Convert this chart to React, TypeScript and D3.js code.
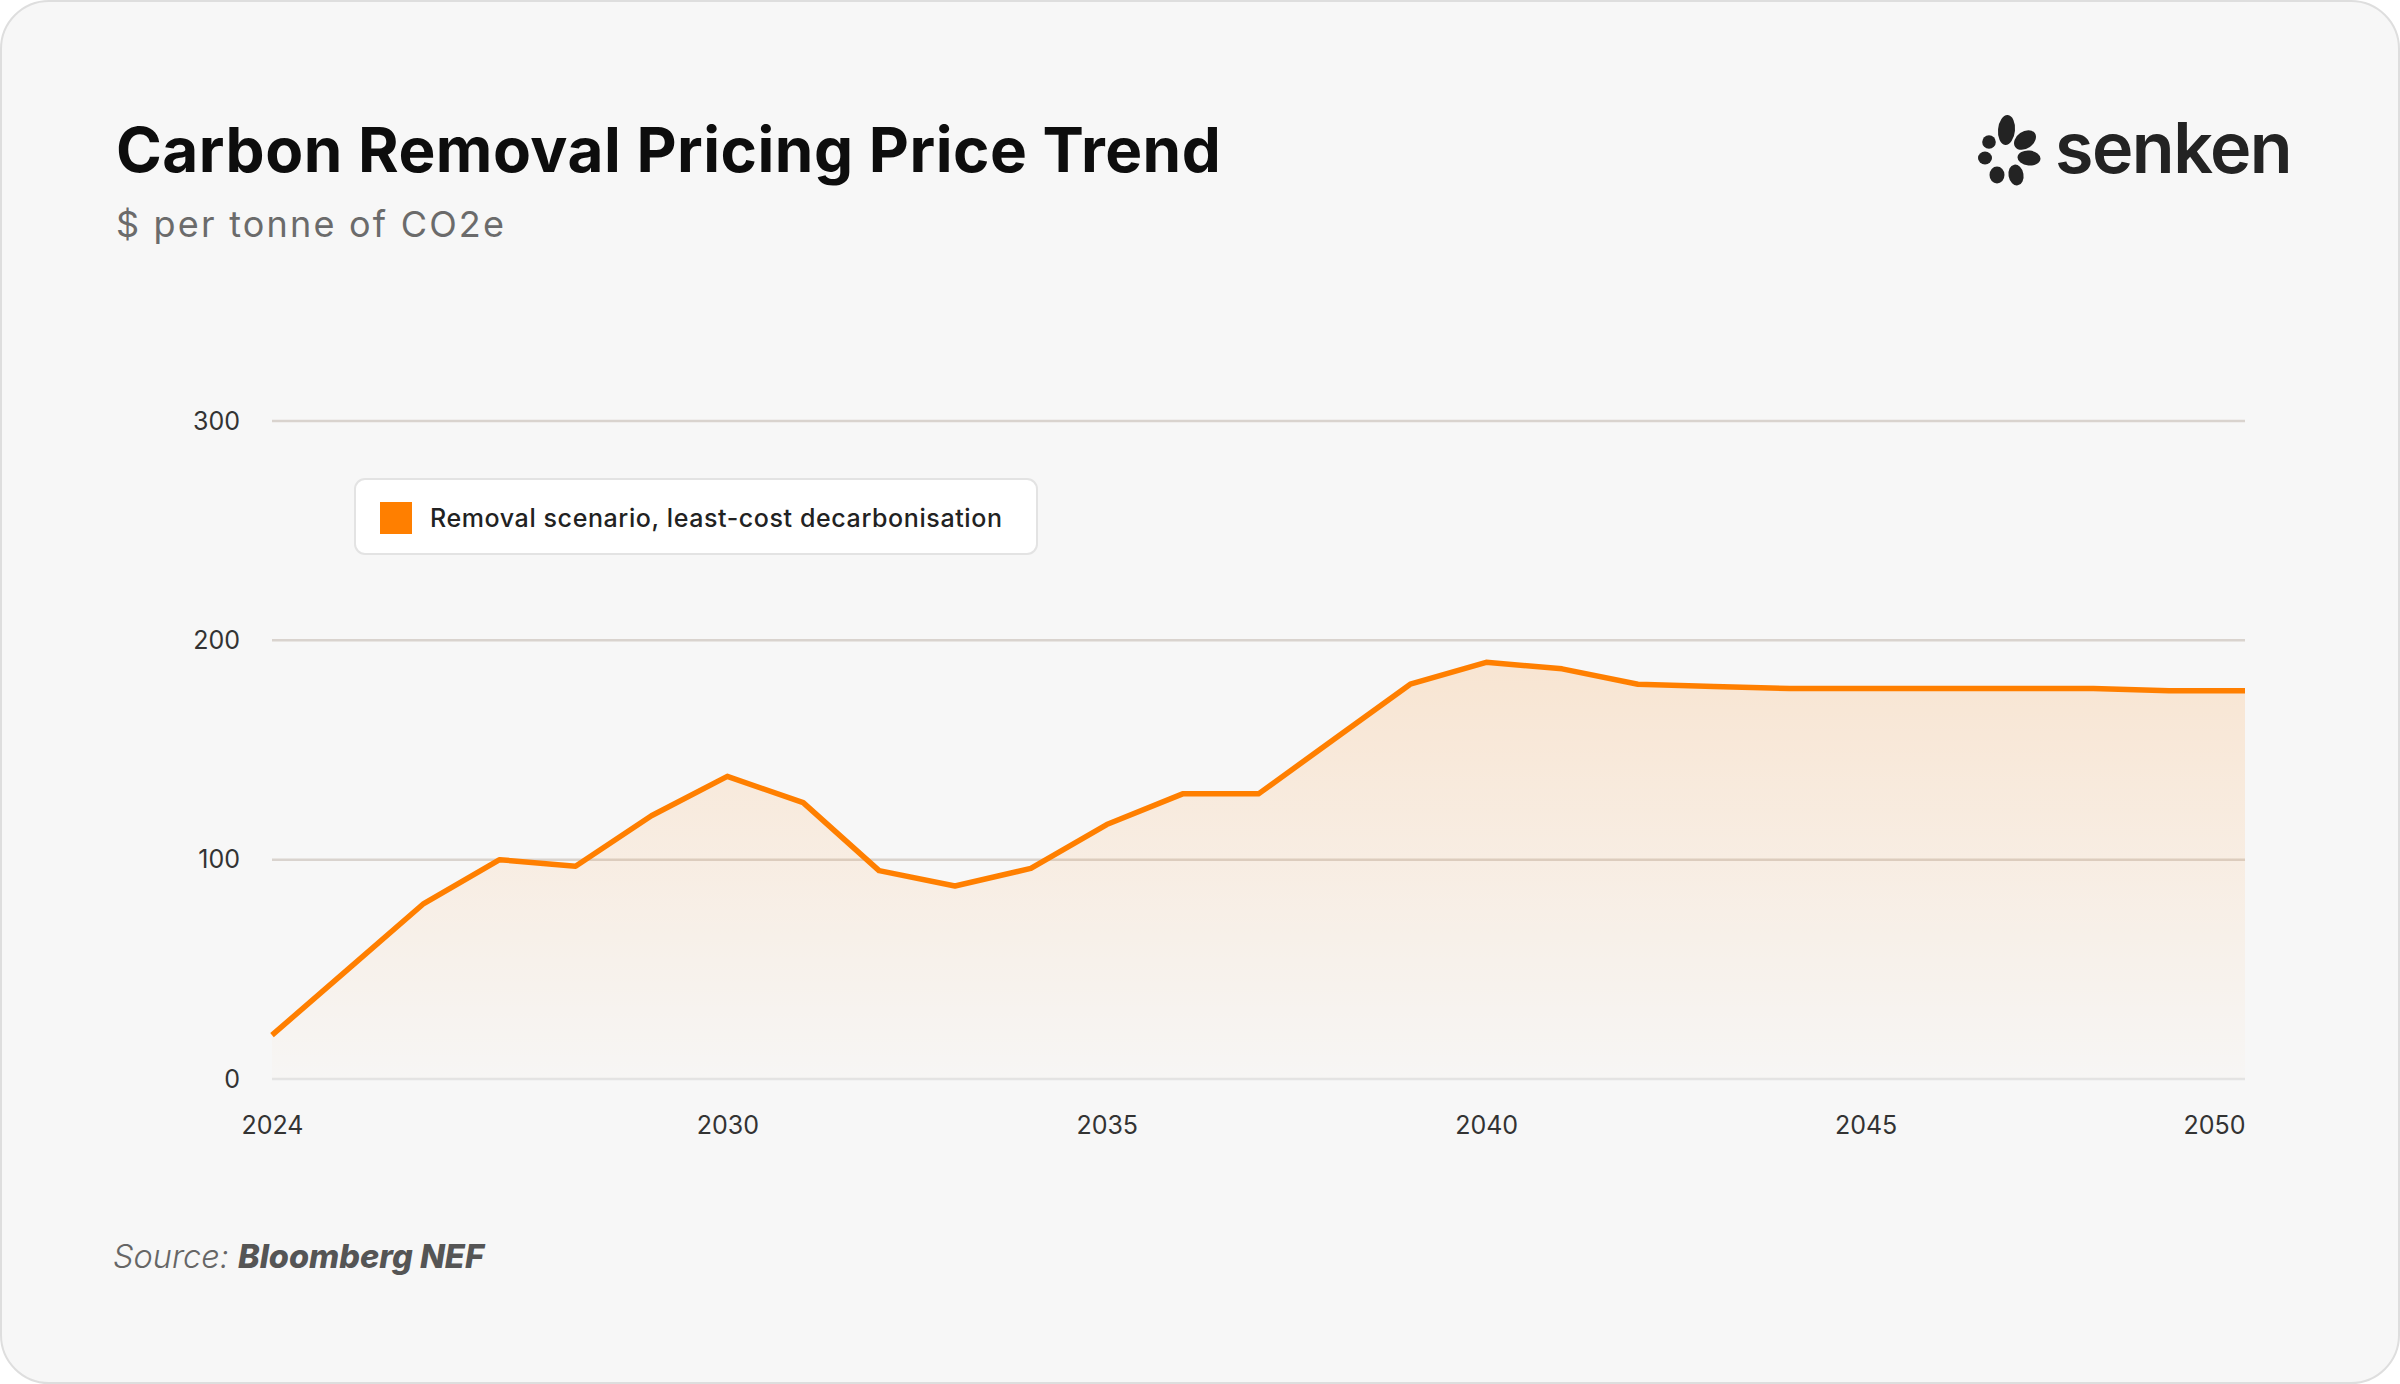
import { useEffect, useRef } from 'react';
import * as d3 from 'd3';

const years = [
  2024, 2025, 2026, 2027, 2028, 2029, 2030, 2031, 2032, 2033, 2034, 2035, 2036, 2037,
  2038, 2039, 2040, 2041, 2042, 2043, 2044, 2045, 2046, 2047, 2048, 2049, 2050,
];
const prices = [
  20, 50, 80, 100, 97, 120, 138, 126, 95, 88, 96, 116, 130, 130,
  155, 180, 190, 187, 180, 179, 178, 178, 178, 178, 178, 177, 177,
];
const yTicks = [0, 100, 200, 300];
const xTicks = [2024, 2030, 2035, 2040, 2045, 2050];

const seriesName = 'Removal scenario, least-cost decarbonisation';
const ORANGE = '#ff7f00';
const W = 2400;
const H = 1384;

export default function App() {
  const svgRef = useRef<SVGSVGElement>(null);

  useEffect(() => {
    document.body.style.margin = '0';
    if (!svgRef.current) return;
    const svg = d3.select(svgRef.current);
    svg.selectAll('*').remove();

    const x = d3.scaleLinear().domain([2024, 2050]).range([272, 2245]);
    const y = d3.scaleLinear().domain([0, 300]).range([1079, 421]);

    // card
    svg.append('rect')
      .attr('x', 1).attr('y', 1)
      .attr('width', W - 2).attr('height', H - 2)
      .attr('rx', 48)
      .attr('fill', '#f7f7f7')
      .attr('stroke', '#dedede')
      .attr('stroke-width', 2);

    const defs = svg.append('defs');
    const grad = defs.append('linearGradient')
      .attr('id', 'areaFill')
      .attr('gradientUnits', 'userSpaceOnUse')
      .attr('x1', 0).attr('x2', 0)
      .attr('y1', y(190)).attr('y2', y(0));
    grad.append('stop').attr('offset', '0%').attr('stop-color', ORANGE).attr('stop-opacity', 0.15);
    grad.append('stop').attr('offset', '100%').attr('stop-color', ORANGE).attr('stop-opacity', 0.01);

    // title
    svg.append('text')
      .attr('x', 116).attr('y', 172)
      .attr('font-family', 'Inter, sans-serif')
      .attr('font-size', 62)
      .attr('font-weight', 700)
      .attr('letter-spacing', 0.5)
      .attr('fill', '#0d0d0d')
      .text('Carbon Removal Pricing Price Trend');
    svg.append('text')
      .attr('x', 116).attr('y', 237)
      .attr('font-family', 'Inter, sans-serif')
      .attr('font-size', 36)
      .attr('letter-spacing', 2.2)
      .attr('fill', '#6b6b6b')
      .text('$ per tonne of CO2e');

    // logo
    const logo = svg.append('g').attr('fill', '#232323');
    const blobs = [
      [2006.5, 130, 8.5, 15, 5],
      [2025, 140, 12, 8.5, -35],
      [2029, 158, 11.5, 7.5, 5],
      [2016, 175, 7.5, 10.5, -10],
      [1997, 175, 7.5, 8.5, 0],
      [1985, 158, 7, 6.5, 0],
      [1989, 142, 6.8, 6.8, 0],
    ];
    blobs.forEach(([cx, cy, rx, ry, rot]) => {
      logo.append('ellipse')
        .attr('cx', cx).attr('cy', cy)
        .attr('rx', rx).attr('ry', ry)
        .attr('transform', `rotate(${rot},${cx},${cy})`);
    });
    logo.append('text')
      .attr('x', 2055).attr('y', 173)
      .attr('font-family', 'Inter, sans-serif')
      .attr('font-size', 70)
      .attr('font-weight', 600)
      .attr('letter-spacing', -1.5)
      .text('senken');

    // grid
    svg.append('g')
      .selectAll('line')
      .data(yTicks)
      .join('line')
      .attr('x1', x(2024)).attr('x2', x(2050))
      .attr('y1', d => y(d)).attr('y2', d => y(d))
      .attr('stroke', d => (d === 0 ? '#e4e4e4' : '#d9d3ce'))
      .attr('stroke-width', 2.5);

    // area + line
    const pts = years.map((yr, i) => ({ yr, v: prices[i] }));
    const area = d3.area<{ yr: number; v: number }>()
      .x(d => x(d.yr))
      .y0(y(0))
      .y1(d => y(d.v));
    const line = d3.line<{ yr: number; v: number }>()
      .x(d => x(d.yr))
      .y(d => y(d.v));

    svg.append('path').datum(pts).attr('d', area).attr('fill', 'url(#areaFill)');
    svg.append('path').datum(pts)
      .attr('d', line)
      .attr('fill', 'none')
      .attr('stroke', ORANGE)
      .attr('stroke-width', 5.5)
      .attr('stroke-linejoin', 'round');

    // y axis labels
    const yAxis = svg.append('g')
      .attr('transform', `translate(${x(2024)},0)`)
      .call(d3.axisLeft(y).tickValues(yTicks).tickSize(0).tickPadding(32));
    yAxis.select('.domain').remove();
    yAxis.selectAll('text')
      .attr('font-family', 'Inter, sans-serif')
      .attr('font-size', 25)
      .attr('fill', '#333');

    // x axis labels (last one pinned to the right edge)
    const xAxis = svg.append('g')
      .attr('transform', `translate(0,${y(0)})`)
      .call(d3.axisBottom(x).tickValues(xTicks).tickFormat(d3.format('d')).tickSize(0).tickPadding(37));
    xAxis.select('.domain').remove();
    xAxis.selectAll('text')
      .attr('font-family', 'Inter, sans-serif')
      .attr('font-size', 25)
      .attr('fill', '#333')
      .attr('text-anchor', d => (d === 2050 ? 'end' : 'middle'));

    // legend
    const lg = svg.append('g');
    lg.append('rect')
      .attr('x', 355).attr('y', 479)
      .attr('width', 682).attr('height', 75)
      .attr('rx', 10)
      .attr('fill', '#ffffff')
      .attr('stroke', '#e3e3e3')
      .attr('stroke-width', 2);
    lg.append('rect')
      .attr('x', 380).attr('y', 502)
      .attr('width', 32).attr('height', 32)
      .attr('fill', ORANGE);
    lg.append('text')
      .attr('x', 430).attr('y', 527)
      .attr('font-family', 'Inter, sans-serif')
      .attr('font-size', 25)
      .attr('font-weight', 500)
      .attr('letter-spacing', 0.6)
      .attr('fill', '#222')
      .text(seriesName);

    // source
    const src = svg.append('text')
      .attr('x', 113).attr('y', 1268)
      .attr('font-family', 'Inter, sans-serif')
      .attr('font-size', 32.5)
      .attr('font-style', 'italic')
      .attr('fill', '#666');
    src.append('tspan').attr('font-weight', 300).text('Source: ');
    src.append('tspan').attr('font-weight', 800).attr('fill', '#555').text('Bloomberg NEF');
  }, []);

  return (
    <svg
      ref={svgRef}
      width={W}
      height={H}
      viewBox={`0 0 ${W} ${H}`}
      style={{ display: 'block', position: 'absolute', left: 0, top: 0, background: '#ffffff' }}
    />
  );
}
